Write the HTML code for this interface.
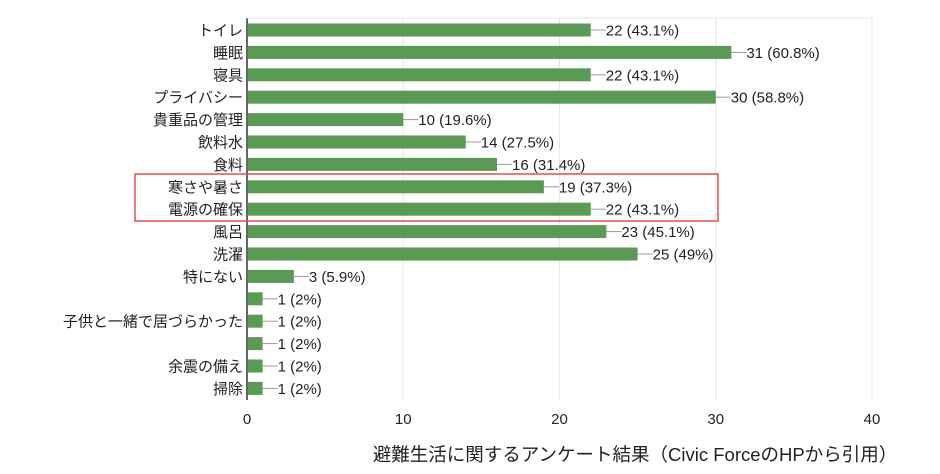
<!DOCTYPE html>
<html><head><meta charset="utf-8"><style>
body{margin:0;background:#fff;}
svg text{font-family:"Liberation Sans","Noto Sans CJK JP",sans-serif;fill:#222;}
</style></head><body>
<svg width="940" height="469">
<g id="grid"></g><g id="bars"></g><g id="labels"></g>
<rect x="135" y="174" width="583" height="47" fill="none" stroke="#e05050" stroke-width="1.5"/>
<text x="635" y="461" font-size="18.5" text-anchor="middle">避難生活に関するアンケート結果（Civic ForceのHPから引用）</text>
</svg>
<script>
const categories=["トイレ","睡眠","寝具","プライバシー","貴重品の管理","飲料水","食料","寒さや暑さ","電源の確保","風呂","洗濯","特にない","","子供と一緒で居づらかった","","余震の備え","掃除"];
const values=[22,31,22,30,10,14,16,19,22,23,25,3,1,1,1,1,1];
const percents=["43.1%","60.8%","43.1%","58.8%","19.6%","27.5%","31.4%","37.3%","43.1%","45.1%","49%","5.9%","2%","2%","2%","2%","2%"];
const ticks=[0,10,20,30,40];
const NS="http://www.w3.org/2000/svg";
const x0=247,x1=872,plotTop=18,plotBottom=400,maxV=40;
const xs=v=>x0+(v/maxV)*(x1-x0);
const yc=i=>30+i*22.4;
function mk(t,a,p){const e=document.createElementNS(NS,t);for(const k in a)e.setAttribute(k,a[k]);p.appendChild(e);return e;}
const grid=document.getElementById('grid'),bars=document.getElementById('bars'),labels=document.getElementById('labels');
ticks.forEach(t=>{
 const l=mk('line',{x1:xs(t),x2:xs(t),y1:plotTop,y2:plotBottom,stroke:t===0?'#333':'#e6e6e6','stroke-width':t===0?1.5:1},grid);
 
 
 const tx=mk('text',{x:xs(t),y:424,'font-size':15,'text-anchor':'middle'},grid);
 tx.textContent=t;
 
 
});
const tl=mk('line',{x1:x0,x2:x1,y1:plotTop,y2:plotTop,stroke:'#e6e6e6'},grid);


values.forEach((v,i)=>{
 const y=yc(i);
 const b=mk('rect',{x:x0+1,y:y-6.5,width:Math.max(0,xs(v)-x0-1),height:13,fill:'#5a9a55'},bars);
 
 
 const c=mk('line',{x1:xs(v),x2:xs(v)+15,y1:y,y2:y,stroke:'#999'},labels);
 
 
 const vt=mk('text',{x:xs(v)+15,y:y+5.5,'font-size':15},labels);
 vt.textContent=v+' ('+percents[i]+')';
 
 
 if(categories[i]){
  const ct=mk('text',{x:x0-4,y:y+5.5,'font-size':15,'text-anchor':'end'},labels);
  ct.textContent=categories[i];
  
  
 }
});
</script>
</body></html>
